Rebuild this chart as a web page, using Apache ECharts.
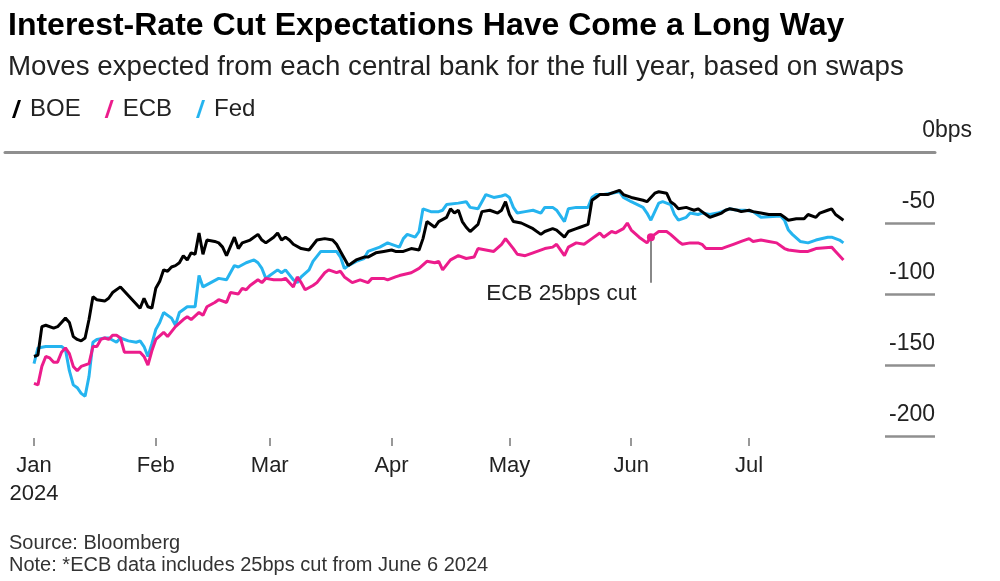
<!DOCTYPE html>
<html>
<head>
<meta charset="utf-8">
<script src="https://cdn.jsdelivr.net/npm/echarts@6.0.0/dist/echarts.min.js"></script>
<style>
html,body{margin:0;padding:0;background:#fff;}
#chart{width:1000px;height:581px;}
</style>
</head>
<body>
<div id="chart"></div>
<script>
// ---------- text ----------
const titleText = 'Interest-Rate Cut Expectations Have Come a Long Way';
const subtitleText = 'Moves expected from each central bank for the full year, based on swaps';
const sourceText = 'Source: Bloomberg';
const noteText = 'Note: *ECB data includes 25bps cut from June 6 2024';
const seriesNames = ['BOE', 'ECB', 'Fed'];
const monthNames = ['Jan','Feb','Mar','Apr','May','Jun','Jul','Aug','Sep','Oct','Nov','Dec'];
const yTicks = [-200, -150, -100, -50, 0];
const yearLabel = '2024';

// ---------- annotation ----------
const cutDate = '2024-06-06';
const cutValue = -60;
const cutLineFrom = -61;
const cutLineTo = -92;
const cutLabelAt = -100;
const cutLabel = 'ECB 25bps cut';

// ---------- BOE ----------
const boeDates = [
 '01-01','01-02','01-03','01-04','01-06','01-07','01-08','01-09','01-10','01-11','01-12','01-13','01-14','01-15','01-16','01-17','01-19','01-20','01-21','01-23','01-24','01-26','01-28','01-29','01-30','01-31',
 '02-01','02-02','02-03','02-04','02-05','02-06','02-07','02-08','02-09','02-10','02-11','02-12','02-13','02-14','02-16','02-17','02-18','02-19','02-21','02-22','02-23','02-25','02-27','02-28','02-29',
 '03-02','03-03','03-04','03-05','03-06','03-07','03-09','03-11','03-13','03-15','03-17','03-18','03-19','03-21','03-22','03-23','03-25','03-26','03-28','03-30',
 '04-01','04-02','04-04','04-06','04-08','04-09','04-10','04-12','04-13','04-15','04-16','04-17','04-18','04-19','04-20','04-21','04-23','04-24','04-26','04-28','04-29','04-30',
 '05-01','05-02','05-04','05-07','05-09','05-10','05-12','05-13','05-15','05-16','05-18','05-19','05-21','05-22','05-23','05-24','05-26','05-27','05-29','05-30',
 '06-01','06-04','06-05','06-06','06-07','06-08','06-10','06-11','06-12','06-13','06-15','06-16','06-17','06-18','06-19','06-20','06-21','06-23','06-24','06-25','06-26','06-28','06-29',
 '07-01','07-02','07-04','07-06','07-07','07-09','07-10','07-11','07-13','07-15','07-16','07-18','07-19','07-21','07-22','07-23','07-25'];
const boeValues = [
 -144,-143,-123,-122,-124,-123,-120,-117,-120,-130,-132,-133,-131,-118,-102,-104,-105,-103,-99,-95,-98,-104,-110,-103,-109,-110,
 -96,-91,-83,-84,-81,-80,-78,-73,-76,-71,-72,-57,-72,-62,-63,-64,-67,-73,-60,-68,-64,-62,-58,-62,-64,
 -60,-57,-62,-60,-62,-65,-68,-69,-62,-61,-62,-65,-70,-80,-78,-76,-74,-74,-71,-70,
 -69,-70,-70,-68,-69,-61,-49,-53,-49,-46,-40,-43,-41,-49,-53,-56,-51,-42,-41,-43,-41,-35,
 -44,-49,-50,-54,-58,-56,-54,-55,-60,-56,-54,-53,-51,-34,-32,-30,-30,-29,-27,-30,
 -32,-34,-35,-32,-29,-28,-29,-35,-37,-40,-39,-40,-41,-40,-42,-44,-46,-44,-43,-41,-40,-41,-42,
 -41,-42,-43,-44,-44,-44,-46,-48,-47,-47,-44,-46,-43,-41,-40,-44,-48];

// ---------- ECB ----------
const ecbDates = [
 '01-01','01-02','01-03','01-04','01-05','01-06','01-07','01-08','01-09','01-10','01-11','01-12','01-13','01-15','01-16','01-17','01-18','01-19','01-20','01-21','01-22','01-23','01-24','01-26','01-28','01-29','01-30','01-31',
 '02-01','02-03','02-04','02-06','02-08','02-09','02-10','02-12','02-13','02-14','02-16','02-17','02-19','02-20','02-22','02-23','02-24','02-25','02-27','02-28','02-29',
 '03-02','03-03','03-04','03-05','03-07','03-08','03-09','03-10','03-12','03-13','03-15','03-16','03-18','03-19','03-20','03-22','03-24','03-26','03-27','03-30','03-31',
 '04-02','04-03','04-06','04-08','04-10','04-12','04-13','04-14','04-16','04-18','04-20','04-22','04-23','04-25','04-27','04-29','04-30',
 '05-02','05-03','05-05','05-07','05-10','05-12','05-13','05-15','05-16','05-18','05-20','05-22','05-24','05-25','05-27','05-28','05-30','05-31',
 '06-01','06-03','06-05','06-06','06-07','06-08','06-10','06-11','06-13','06-14','06-16','06-18','06-19','06-20','06-22','06-24','06-25','06-27','06-29',
 '07-01','07-02','07-04','07-06','07-08','07-10','07-11','07-14','07-16','07-17','07-18','07-22','07-23','07-25'];
const ecbValues = [
 -163,-164,-151,-144,-145,-148,-148,-141,-138,-142,-151,-154,-151,-149,-137,-137,-132,-131,-132,-129,-129,-131,-141,-141,-141,-144,-150,-140,
 -132,-127,-130,-123,-118,-116,-118,-113,-115,-109,-106,-104,-106,-99,-100,-96,-97,-94,-90,-92,-89,
 -90,-90,-90,-89,-95,-88,-92,-97,-94,-92,-85,-83,-85,-84,-88,-92,-90,-92,-89,-89,-90,
 -88,-87,-85,-82,-77,-78,-77,-83,-76,-73,-75,-74,-68,-69,-70,-65,-61,
 -68,-72,-73,-71,-68,-67,-65,-73,-67,-64,-65,-61,-57,-60,-56,-57,-54,-50,
 -55,-60,-64,-60,-58,-56,-56,-58,-63,-65,-64,-64,-65,-68,-68,-68,-67,-65,-63,
 -61,-63,-62,-63,-64,-68,-69,-70,-70,-69,-68,-67,-70,-76];

// ---------- Fed ----------
const fedDates = [
 '01-01','01-02','01-04','01-06','01-08','01-09','01-10','01-11','01-12','01-13','01-14','01-15','01-16','01-17','01-19','01-20','01-22','01-23','01-25','01-27','01-28','01-29','01-30','01-31',
 '02-01','02-02','02-03','02-05','02-06','02-07','02-09','02-11','02-12','02-13','02-15','02-17','02-19','02-21','02-22','02-24','02-26','02-27','02-28','02-29',
 '03-01','03-03','03-04','03-05','03-07','03-08','03-09','03-11','03-12','03-14','03-16','03-18','03-19','03-20','03-21','03-23','03-25','03-26','03-29','03-31',
 '04-01','04-03','04-04','04-05','04-07','04-08','04-09','04-11','04-13','04-14','04-15','04-18','04-20','04-21','04-23','04-24','04-25','04-27','04-29','04-30',
 '05-01','05-02','05-03','05-05','05-07','05-09','05-10','05-12','05-13','05-15','05-16','05-18','05-21','05-22','05-23','05-25','05-27','05-29','05-30',
 '06-01','06-04','06-05','06-06','06-07','06-08','06-09','06-11','06-12','06-13','06-15','06-16','06-18','06-19','06-21','06-23','06-26','06-28','06-30',
 '07-02','07-04','07-09','07-10','07-11','07-12','07-14','07-16','07-18','07-21','07-22','07-24','07-25'];
const fedValues = [
 -149,-138,-137,-137,-137,-139,-154,-164,-166,-170,-172,-158,-134,-132,-131,-131,-134,-131,-133,-134,-133,-137,-144,-135,
 -125,-120,-113,-117,-122,-113,-109,-109,-87,-95,-92,-89,-90,-80,-81,-78,-76,-78,-82,-89,
 -87,-83,-85,-83,-90,-92,-88,-83,-77,-70,-70,-70,-74,-82,-80,-77,-75,-70,-67,-64,
 -65,-67,-61,-58,-60,-56,-40,-42,-42,-41,-37,-36,-35,-39,-40,-35,-30,-32,-31,-30,
 -32,-39,-43,-42,-41,-43,-39,-39,-41,-49,-40,-39,-39,-32,-30,-30,-29,-28,-32,
 -35,-39,-43,-48,-42,-36,-35,-37,-44,-48,-46,-43,-44,-43,-44,-43,-40,-41,-41,
 -42,-46,-45,-48,-55,-58,-63,-64,-62,-60,-60,-62,-64];

// ---------- styling ----------
const FONT = '"Liberation Sans", Arial, Helvetica, sans-serif';
const colors = { BOE: '#000000', ECB: '#ec1c8c', Fed: '#25b4ef' };
const gridGray = '#8f8f8f';

function pairs(dates, values) {
  return dates.map((d, i) => [yearLabel + '-' + d, values[i]]);
}

const chart = echarts.init(document.getElementById('chart'), null, { renderer: 'canvas' });

const legendIcon = 'path://M0,18 L6,0 L9,0 L3,18 Z';

const option = {
  animation: false,
  backgroundColor: '#ffffff',
  textStyle: { fontFamily: FONT },
  title: [
    { text: titleText, left: 3, top: 5,
      textStyle: { fontFamily: FONT, fontSize: 32, fontWeight: 'bold', color: '#000' } },
    { text: subtitleText, left: 3, top: 48,
      textStyle: { fontFamily: FONT, fontSize: 27.7, fontWeight: 'normal', color: '#222' } },
    { text: sourceText, left: 4, top: 528,
      textStyle: { fontFamily: FONT, fontSize: 20, fontWeight: 'normal', color: '#333' } },
    { text: noteText, left: 4, top: 550,
      textStyle: { fontFamily: FONT, fontSize: 20, fontWeight: 'normal', color: '#333' } }
  ],
  legend: {
    data: seriesNames.map(n => ({ name: n, icon: legendIcon })),
    left: 7, top: 92,
    itemWidth: 9, itemHeight: 18, itemGap: 24,
    textStyle: { fontFamily: FONT, fontSize: 24, color: '#222', padding: [0, 0, 0, 4] },
    selectedMode: false
  },
  grid: [
    { left: 34, right: 133, top: 152, bottom: 145 },   // data
    { left: 5, right: 65, top: 152, bottom: 145 },     // zero line
    { left: 885, right: 65, top: 152, bottom: 145 }    // y ticks
  ],
  xAxis: [
    {
      type: 'time', gridIndex: 0, position: 'bottom',
      min: yearLabel + '-01-01', max: yearLabel + '-07-31',
      splitNumber: 7,
      minInterval: 28 * 86400000, maxInterval: 31 * 86400000,
      offset: 2,
      axisLine: { show: false, onZero: false },
      axisTick: { show: true, length: 8, lineStyle: { color: '#777', width: 1.5 } },
      splitLine: { show: false },
      axisLabel: {
        margin: 14, fontFamily: FONT, fontSize: 22, color: '#222', lineHeight: 28,
        hideOverlap: false,
        formatter: function (value) {
          const d = new Date(value);
          const m = monthNames[d.getMonth()];
          return d.getMonth() === 0 ? m + '\n' + yearLabel : m;
        }
      }
    },
    {
      type: 'value', gridIndex: 1, position: 'top', min: 0, max: 1,
      axisLine: { show: true, onZero: false, lineStyle: { color: gridGray, width: 3 } },
      axisTick: { show: false }, axisLabel: { show: false }, splitLine: { show: false }
    },
    {
      type: 'value', gridIndex: 2, min: 0, max: 1, show: false
    }
  ],
  yAxis: [
    {
      type: 'value', gridIndex: 0, min: yTicks[0], max: yTicks[yTicks.length - 1], interval: 50,
      show: false, splitLine: { show: false }
    },
    {
      type: 'value', gridIndex: 1, min: yTicks[0], max: yTicks[yTicks.length - 1], interval: 50,
      show: false
    },
    {
      type: 'value', gridIndex: 2, min: yTicks[0], max: yTicks[yTicks.length - 1], interval: 50,
      position: 'left',
      axisLine: { show: false }, axisTick: { show: false },
      splitLine: { show: true, lineStyle: { color: gridGray, width: 2.5 } },
      axisLabel: {
        inside: true, margin: 10, align: 'left', verticalAlign: 'bottom',
        padding: [0, 0, 9, 0],
        formatter: function (v) {
          return v === 0 ? '{n|0}{u|bps}' : '{n|' + v + '}';
        },
        rich: {
          n: { width: 40, align: 'right', fontFamily: FONT, fontSize: 23, color: '#222', lineHeight: 24 },
          u: { align: 'right', fontFamily: FONT, fontSize: 23, color: '#222', lineHeight: 24 }
        }
      }
    }
  ],
  series: [
    {
      name: 'Fed', type: 'line', xAxisIndex: 0, yAxisIndex: 0,
      data: pairs(fedDates, fedValues),
      showSymbol: false, symbol: 'none',
      lineStyle: { color: colors.Fed, width: 3 }, itemStyle: { color: colors.Fed },
      z: 2
    },
    {
      name: 'ECB', type: 'line', xAxisIndex: 0, yAxisIndex: 0,
      data: pairs(ecbDates, ecbValues),
      showSymbol: false, symbol: 'none',
      lineStyle: { color: colors.ECB, width: 3 }, itemStyle: { color: colors.ECB },
      z: 3,
      markLine: {
        silent: true, symbol: ['none', 'none'],
        lineStyle: { color: '#888', width: 2, type: 'solid' },
        label: { show: false },
        data: [[ { coord: [cutDate, cutLineFrom] }, { coord: [cutDate, cutLineTo] } ]]
      },
      markPoint: {
        silent: true,
        data: [
          { coord: [cutDate, cutValue], symbol: 'circle', symbolSize: 8,
            itemStyle: { color: colors.ECB }, label: { show: false } },
          { coord: [cutDate, cutLabelAt], symbol: 'circle', symbolSize: 1,
            itemStyle: { color: 'rgba(0,0,0,0)' },
            label: { show: true, position: 'left', distance: 14, formatter: cutLabel,
                     fontFamily: FONT, fontSize: 22.5, color: '#222' } }
        ]
      }
    },
    {
      name: 'BOE', type: 'line', xAxisIndex: 0, yAxisIndex: 0,
      data: pairs(boeDates, boeValues),
      showSymbol: false, symbol: 'none',
      lineStyle: { color: colors.BOE, width: 3 }, itemStyle: { color: colors.BOE },
      z: 4
    }
  ]
};

chart.setOption(option);
</script>
</body>
</html>
